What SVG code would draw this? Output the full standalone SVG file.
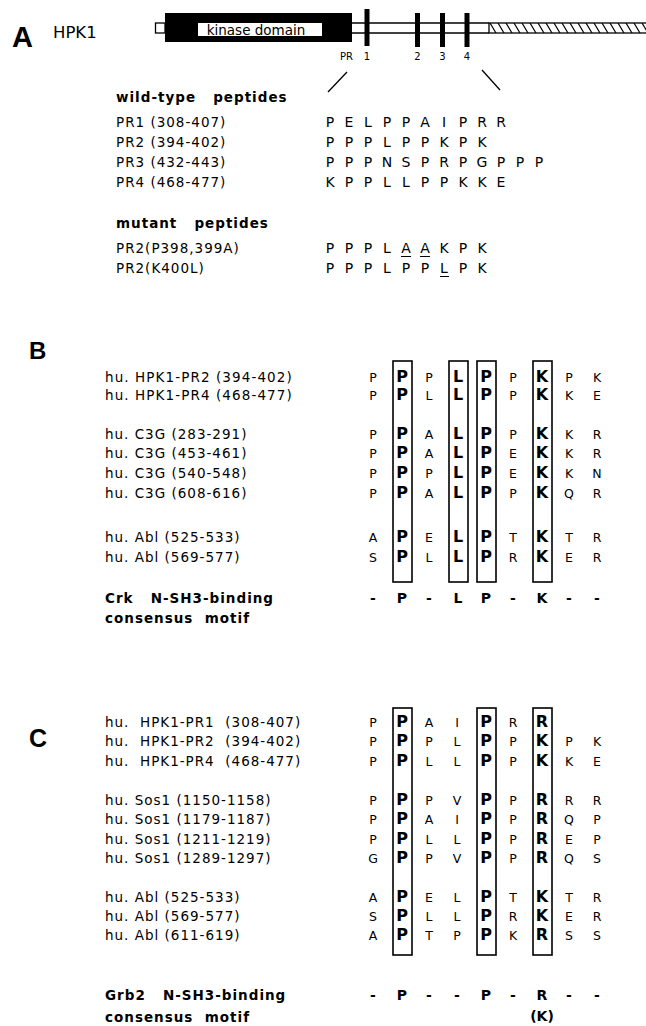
<svg xmlns="http://www.w3.org/2000/svg" width="646" height="1026" viewBox="0 0 646 1026">
<style>
.sec{font-family:"Liberation Sans",Arial,sans-serif;font-weight:bold;fill:#000}
.lbl{font-family:"DejaVu Sans","Liberation Sans",sans-serif;font-size:13.5px;fill:#000;letter-spacing:1px}
.hd{font-family:"DejaVu Sans","Liberation Sans",sans-serif;font-size:13.5px;font-weight:bold;fill:#000;letter-spacing:1px}
.seq{font-family:"DejaVu Sans","Liberation Sans",sans-serif;font-size:14px;fill:#000;text-anchor:middle}
.aa{font-family:"DejaVu Sans","Liberation Sans",sans-serif;font-size:12.5px;fill:#000;text-anchor:middle}
.bx{font-family:"DejaVu Sans","Liberation Sans",sans-serif;font-size:16px;font-weight:bold;fill:#000;text-anchor:middle}
.cs{font-family:"DejaVu Sans","Liberation Sans",sans-serif;font-size:14px;font-weight:bold;fill:#000;text-anchor:middle}
.box{fill:none;stroke:#000;stroke-width:1.6}
.ln{stroke:#000;stroke-width:1.3;fill:none}
.ul{stroke:#000;stroke-width:1}
.small{font-family:"DejaVu Sans","Liberation Sans",sans-serif;font-size:10px;fill:#000;text-anchor:middle}
</style>
<defs>
<pattern id="hatch" patternUnits="userSpaceOnUse" width="8" height="10" x="489" y="23">
<rect width="8" height="10" fill="#fff"/>
<path d="M1,0 L7,10" stroke="#000" stroke-width="1.2"/>
</pattern>
</defs>
<rect width="646" height="1026" fill="#fff"/>

<g id="panelA">
<text class="sec" x="12" y="47" style="font-size:29px">A</text>
<text x="53" y="38" style="font-family:'DejaVu Sans','Liberation Sans',sans-serif;font-size:16.5px">HPK1</text>
</g>

<g id="gene">
<rect x="155.5" y="23" width="9.5" height="10" fill="#fff" stroke="#000" stroke-width="1.3"/>
<rect x="165" y="13" width="187" height="29" fill="#000"/>
<rect x="198" y="23" width="124" height="13" fill="#fff"/>
<text x="256" y="34.5" text-anchor="middle" style="font-family:'DejaVu Sans','Liberation Sans',sans-serif;font-size:13.5px">kinase domain</text>
<line class="ln" x1="352" y1="23" x2="489" y2="23"/>
<line class="ln" x1="352" y1="33" x2="489" y2="33"/>
<rect x="489" y="23" width="160" height="10" fill="url(#hatch)" stroke="#000" stroke-width="1.3"/>
<rect x="364.5" y="9" width="5" height="37" fill="#000"/>
<rect x="415" y="13" width="5" height="34" fill="#000"/>
<rect x="440" y="13" width="5" height="34" fill="#000"/>
<rect x="464.5" y="13" width="5" height="34" fill="#000"/>
<text class="small" x="346.5" y="60">PR</text>
<text class="small" x="367" y="60">1</text>
<text class="small" x="417.5" y="60">2</text>
<text class="small" x="442.5" y="60">3</text>
<text class="small" x="467" y="60">4</text>
</g>

<g id="connectors">
<line class="ln" x1="347" y1="72" x2="328" y2="92"/>
<line class="ln" x1="482" y1="70" x2="500" y2="90"/>
</g>

<g id="peptides">
<text class="hd" x="116" y="102" xml:space="preserve">wild-type   peptides</text>
<text class="lbl" x="116" y="127">PR1 (308-407)</text>
<text class="lbl" x="116" y="147">PR2 (394-402)</text>
<text class="lbl" x="116" y="167">PR3 (432-443)</text>
<text class="lbl" x="116" y="187">PR4 (468-477)</text>
<text class="hd" x="116" y="228" xml:space="preserve">mutant   peptides</text>
<text class="lbl" x="116" y="253">PR2(P398,399A)</text>
<text class="lbl" x="116" y="273">PR2(K400L)</text>
<text class="seq" y="127"><tspan x="330">P</tspan><tspan x="349">E</tspan><tspan x="368">L</tspan><tspan x="387">P</tspan><tspan x="406">P</tspan><tspan x="425">A</tspan><tspan x="444">I</tspan><tspan x="463">P</tspan><tspan x="482">R</tspan><tspan x="501">R</tspan></text>
<text class="seq" y="147"><tspan x="330">P</tspan><tspan x="349">P</tspan><tspan x="368">P</tspan><tspan x="387">L</tspan><tspan x="406">P</tspan><tspan x="425">P</tspan><tspan x="444">K</tspan><tspan x="463">P</tspan><tspan x="482">K</tspan></text>
<text class="seq" y="167"><tspan x="330">P</tspan><tspan x="349">P</tspan><tspan x="368">P</tspan><tspan x="387">N</tspan><tspan x="406">S</tspan><tspan x="425">P</tspan><tspan x="444">R</tspan><tspan x="463">P</tspan><tspan x="482">G</tspan><tspan x="501">P</tspan><tspan x="520">P</tspan><tspan x="539">P</tspan></text>
<text class="seq" y="187"><tspan x="330">K</tspan><tspan x="349">P</tspan><tspan x="368">P</tspan><tspan x="387">L</tspan><tspan x="406">L</tspan><tspan x="425">P</tspan><tspan x="444">P</tspan><tspan x="463">K</tspan><tspan x="482">K</tspan><tspan x="501">E</tspan></text>
<text class="seq" y="253"><tspan x="330">P</tspan><tspan x="349">P</tspan><tspan x="368">P</tspan><tspan x="387">L</tspan><tspan x="406">A</tspan><tspan x="425">A</tspan><tspan x="444">K</tspan><tspan x="463">P</tspan><tspan x="482">K</tspan></text>
<text class="seq" y="273"><tspan x="330">P</tspan><tspan x="349">P</tspan><tspan x="368">P</tspan><tspan x="387">L</tspan><tspan x="406">P</tspan><tspan x="425">P</tspan><tspan x="444">L</tspan><tspan x="463">P</tspan><tspan x="482">K</tspan></text>
<line class="ul" x1="401" y1="256.5" x2="411" y2="256.5"/>
<line class="ul" x1="420" y1="256.5" x2="430" y2="256.5"/>
<line class="ul" x1="440" y1="276.5" x2="449" y2="276.5"/>
</g>

<g id="panelB">
<text class="sec" x="29" y="359" style="font-size:24px">B</text>
<text class="lbl" x="105" y="382" style="letter-spacing:1.1px">hu. HPK1-PR2 (394-402)</text>
<text class="lbl" x="105" y="400" style="letter-spacing:1.1px">hu. HPK1-PR4 (468-477)</text>
<text class="lbl" x="105" y="439">hu. C3G (283-291)</text>
<text class="lbl" x="105" y="458">hu. C3G (453-461)</text>
<text class="lbl" x="105" y="478">hu. C3G (540-548)</text>
<text class="lbl" x="105" y="498">hu. C3G (608-616)</text>
<text class="lbl" x="105" y="542">hu. Abl (525-533)</text>
<text class="lbl" x="105" y="562">hu. Abl (569-577)</text>
<text class="hd" x="105" y="603" xml:space="preserve">Crk   N-SH3-binding</text>
<text class="hd" x="105" y="623" xml:space="preserve">consensus  motif</text>
<g id="B-boxes">
<rect class="box" x="393" y="361" width="19" height="221"/>
<rect class="box" x="449" y="361" width="19" height="221"/>
<rect class="box" x="477" y="361" width="19" height="221"/>
<rect class="box" x="533" y="361" width="19" height="221"/>
</g>
<g id="B-seq">
<text y="382"><tspan class="aa" x="373">P</tspan><tspan class="bx" x="402">P</tspan><tspan class="aa" x="429">P</tspan><tspan class="bx" x="458">L</tspan><tspan class="bx" x="486">P</tspan><tspan class="aa" x="513">P</tspan><tspan class="bx" x="542">K</tspan><tspan class="aa" x="569">P</tspan><tspan class="aa" x="597">K</tspan></text>
<text y="400"><tspan class="aa" x="373">P</tspan><tspan class="bx" x="402">P</tspan><tspan class="aa" x="429">L</tspan><tspan class="bx" x="458">L</tspan><tspan class="bx" x="486">P</tspan><tspan class="aa" x="513">P</tspan><tspan class="bx" x="542">K</tspan><tspan class="aa" x="569">K</tspan><tspan class="aa" x="597">E</tspan></text>
<text y="439"><tspan class="aa" x="373">P</tspan><tspan class="bx" x="402">P</tspan><tspan class="aa" x="429">A</tspan><tspan class="bx" x="458">L</tspan><tspan class="bx" x="486">P</tspan><tspan class="aa" x="513">P</tspan><tspan class="bx" x="542">K</tspan><tspan class="aa" x="569">K</tspan><tspan class="aa" x="597">R</tspan></text>
<text y="458"><tspan class="aa" x="373">P</tspan><tspan class="bx" x="402">P</tspan><tspan class="aa" x="429">A</tspan><tspan class="bx" x="458">L</tspan><tspan class="bx" x="486">P</tspan><tspan class="aa" x="513">E</tspan><tspan class="bx" x="542">K</tspan><tspan class="aa" x="569">K</tspan><tspan class="aa" x="597">R</tspan></text>
<text y="478"><tspan class="aa" x="373">P</tspan><tspan class="bx" x="402">P</tspan><tspan class="aa" x="429">P</tspan><tspan class="bx" x="458">L</tspan><tspan class="bx" x="486">P</tspan><tspan class="aa" x="513">E</tspan><tspan class="bx" x="542">K</tspan><tspan class="aa" x="569">K</tspan><tspan class="aa" x="597">N</tspan></text>
<text y="498"><tspan class="aa" x="373">P</tspan><tspan class="bx" x="402">P</tspan><tspan class="aa" x="429">A</tspan><tspan class="bx" x="458">L</tspan><tspan class="bx" x="486">P</tspan><tspan class="aa" x="513">P</tspan><tspan class="bx" x="542">K</tspan><tspan class="aa" x="569">Q</tspan><tspan class="aa" x="597">R</tspan></text>
<text y="542"><tspan class="aa" x="373">A</tspan><tspan class="bx" x="402">P</tspan><tspan class="aa" x="429">E</tspan><tspan class="bx" x="458">L</tspan><tspan class="bx" x="486">P</tspan><tspan class="aa" x="513">T</tspan><tspan class="bx" x="542">K</tspan><tspan class="aa" x="569">T</tspan><tspan class="aa" x="597">R</tspan></text>
<text y="562"><tspan class="aa" x="373">S</tspan><tspan class="bx" x="402">P</tspan><tspan class="aa" x="429">L</tspan><tspan class="bx" x="458">L</tspan><tspan class="bx" x="486">P</tspan><tspan class="aa" x="513">R</tspan><tspan class="bx" x="542">K</tspan><tspan class="aa" x="569">E</tspan><tspan class="aa" x="597">R</tspan></text>
<text y="603"><tspan class="cs" x="373">-</tspan><tspan class="cs" x="402">P</tspan><tspan class="cs" x="429">-</tspan><tspan class="cs" x="458">L</tspan><tspan class="cs" x="486">P</tspan><tspan class="cs" x="513">-</tspan><tspan class="cs" x="542">K</tspan><tspan class="cs" x="569">-</tspan><tspan class="cs" x="597">-</tspan></text>
</g>
</g>

<g id="panelC">
<text class="sec" x="29" y="747" style="font-size:25px">C</text>
<text class="lbl" x="105" y="727" xml:space="preserve">hu.  HPK1-PR1  (308-407)</text>
<text class="lbl" x="105" y="746" xml:space="preserve">hu.  HPK1-PR2  (394-402)</text>
<text class="lbl" x="105" y="766" xml:space="preserve">hu.  HPK1-PR4  (468-477)</text>
<text class="lbl" x="105" y="805">hu. Sos1 (1150-1158)</text>
<text class="lbl" x="105" y="824">hu. Sos1 (1179-1187)</text>
<text class="lbl" x="105" y="844">hu. Sos1 (1211-1219)</text>
<text class="lbl" x="105" y="863">hu. Sos1 (1289-1297)</text>
<text class="lbl" x="105" y="902">hu. Abl (525-533)</text>
<text class="lbl" x="105" y="921">hu. Abl (569-577)</text>
<text class="lbl" x="105" y="940">hu. Abl (611-619)</text>
<text class="hd" x="105" y="1000" xml:space="preserve">Grb2   N-SH3-binding</text>
<text class="hd" x="105" y="1022" xml:space="preserve">consensus  motif</text>
<g id="C-boxes">
<rect class="box" x="393" y="708" width="19" height="247"/>
<rect class="box" x="477" y="708" width="19" height="247"/>
<rect class="box" x="533" y="708" width="19" height="247"/>
</g>
<g id="C-seq">
<text y="727"><tspan class="aa" x="373">P</tspan><tspan class="bx" x="402">P</tspan><tspan class="aa" x="429">A</tspan><tspan class="aa" x="457">I</tspan><tspan class="bx" x="486">P</tspan><tspan class="aa" x="513">R</tspan><tspan class="bx" x="542">R</tspan></text>
<text y="746"><tspan class="aa" x="373">P</tspan><tspan class="bx" x="402">P</tspan><tspan class="aa" x="429">P</tspan><tspan class="aa" x="457">L</tspan><tspan class="bx" x="486">P</tspan><tspan class="aa" x="513">P</tspan><tspan class="bx" x="542">K</tspan><tspan class="aa" x="569">P</tspan><tspan class="aa" x="597">K</tspan></text>
<text y="766"><tspan class="aa" x="373">P</tspan><tspan class="bx" x="402">P</tspan><tspan class="aa" x="429">L</tspan><tspan class="aa" x="457">L</tspan><tspan class="bx" x="486">P</tspan><tspan class="aa" x="513">P</tspan><tspan class="bx" x="542">K</tspan><tspan class="aa" x="569">K</tspan><tspan class="aa" x="597">E</tspan></text>
<text y="805"><tspan class="aa" x="373">P</tspan><tspan class="bx" x="402">P</tspan><tspan class="aa" x="429">P</tspan><tspan class="aa" x="457">V</tspan><tspan class="bx" x="486">P</tspan><tspan class="aa" x="513">P</tspan><tspan class="bx" x="542">R</tspan><tspan class="aa" x="569">R</tspan><tspan class="aa" x="597">R</tspan></text>
<text y="824"><tspan class="aa" x="373">P</tspan><tspan class="bx" x="402">P</tspan><tspan class="aa" x="429">A</tspan><tspan class="aa" x="457">I</tspan><tspan class="bx" x="486">P</tspan><tspan class="aa" x="513">P</tspan><tspan class="bx" x="542">R</tspan><tspan class="aa" x="569">Q</tspan><tspan class="aa" x="597">P</tspan></text>
<text y="844"><tspan class="aa" x="373">P</tspan><tspan class="bx" x="402">P</tspan><tspan class="aa" x="429">L</tspan><tspan class="aa" x="457">L</tspan><tspan class="bx" x="486">P</tspan><tspan class="aa" x="513">P</tspan><tspan class="bx" x="542">R</tspan><tspan class="aa" x="569">E</tspan><tspan class="aa" x="597">P</tspan></text>
<text y="863"><tspan class="aa" x="373">G</tspan><tspan class="bx" x="402">P</tspan><tspan class="aa" x="429">P</tspan><tspan class="aa" x="457">V</tspan><tspan class="bx" x="486">P</tspan><tspan class="aa" x="513">P</tspan><tspan class="bx" x="542">R</tspan><tspan class="aa" x="569">Q</tspan><tspan class="aa" x="597">S</tspan></text>
<text y="902"><tspan class="aa" x="373">A</tspan><tspan class="bx" x="402">P</tspan><tspan class="aa" x="429">E</tspan><tspan class="aa" x="457">L</tspan><tspan class="bx" x="486">P</tspan><tspan class="aa" x="513">T</tspan><tspan class="bx" x="542">K</tspan><tspan class="aa" x="569">T</tspan><tspan class="aa" x="597">R</tspan></text>
<text y="921"><tspan class="aa" x="373">S</tspan><tspan class="bx" x="402">P</tspan><tspan class="aa" x="429">L</tspan><tspan class="aa" x="457">L</tspan><tspan class="bx" x="486">P</tspan><tspan class="aa" x="513">R</tspan><tspan class="bx" x="542">K</tspan><tspan class="aa" x="569">E</tspan><tspan class="aa" x="597">R</tspan></text>
<text y="940"><tspan class="aa" x="373">A</tspan><tspan class="bx" x="402">P</tspan><tspan class="aa" x="429">T</tspan><tspan class="aa" x="457">P</tspan><tspan class="bx" x="486">P</tspan><tspan class="aa" x="513">K</tspan><tspan class="bx" x="542">R</tspan><tspan class="aa" x="569">S</tspan><tspan class="aa" x="597">S</tspan></text>
<text y="1000"><tspan class="cs" x="373">-</tspan><tspan class="cs" x="402">P</tspan><tspan class="cs" x="429">-</tspan><tspan class="cs" x="457">-</tspan><tspan class="cs" x="486">P</tspan><tspan class="cs" x="513">-</tspan><tspan class="cs" x="542">R</tspan><tspan class="cs" x="569">-</tspan><tspan class="cs" x="597">-</tspan></text>
<text class="cs" x="542" y="1021">(K)</text>
</g>
</g>
</svg>
